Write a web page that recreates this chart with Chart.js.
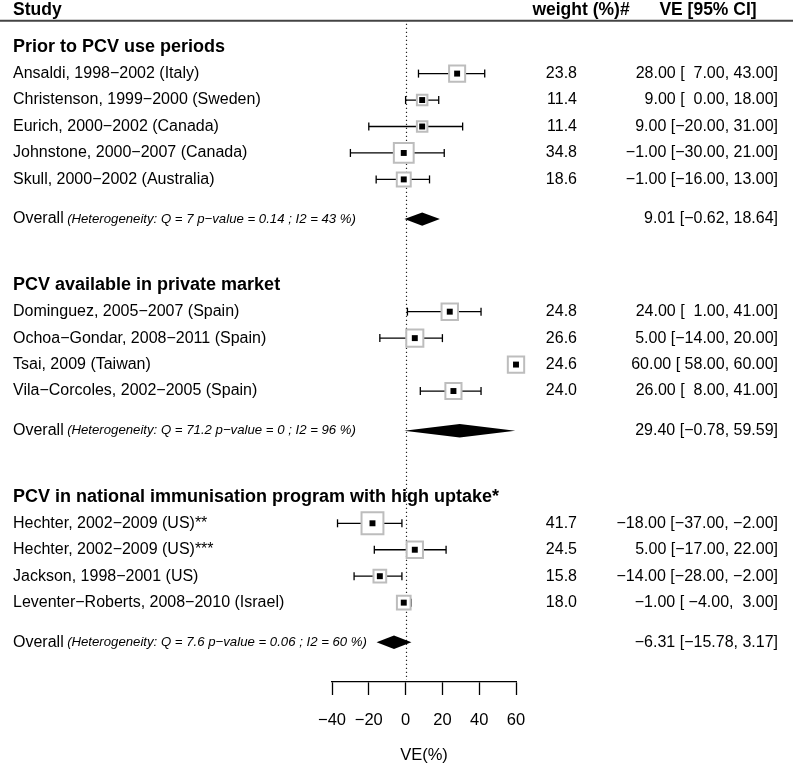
<!DOCTYPE html>
<html><head><meta charset="utf-8">
<script src="https://cdn.jsdelivr.net/npm/chart.js@4.4.0/dist/chart.umd.min.js"></script>
<style>html,body{margin:0;padding:0;background:#fff}#wrap{width:793px;height:766px;position:relative}</style>
</head><body><div id="wrap"><canvas id="c"></canvas></div>
<script>
// ---------- data ----------
const colHeaders = ['Study', 'weight (%)#', 'VE [95% CI]'];
const groupTitles = [
  'Prior to PCV use periods',
  'PCV available in private market',
  'PCV in national immunisation program with high uptake*'
];
const studyNames = [
  ['Ansaldi, 1998\u22122002 (Italy)', 'Christenson, 1999\u22122000 (Sweden)', 'Eurich, 2000\u22122002 (Canada)', 'Johnstone, 2000\u22122007 (Canada)', 'Skull, 2000\u22122002 (Australia)'],
  ['Dominguez, 2005\u22122007 (Spain)', 'Ochoa\u2212Gondar, 2008\u22122011 (Spain)', 'Tsai, 2009 (Taiwan)', 'Vila\u2212Corcoles, 2002\u22122005 (Spain)'],
  ['Hechter, 2002\u22122009 (US)**', 'Hechter, 2002\u22122009 (US)***', 'Jackson, 1998\u22122001 (US)', 'Leventer\u2212Roberts, 2008\u22122010 (Israel)']
];
const estimates = [[28, 9, 9, -1, -1], [24, 5, 60, 26], [-18, 5, -14, -1]];
const lowerCI   = [[7, 0, -20, -30, -16], [1, -14, 58, 8], [-37, -17, -28, -4]];
const upperCI   = [[43, 18, 31, 21, 13], [41, 20, 60, 41], [-2, 22, -2, 3]];
const weights   = [[23.8, 11.4, 11.4, 34.8, 18.6], [24.8, 26.6, 24.6, 24.0], [41.7, 24.5, 15.8, 18.0]];
const overallEst  = [9.01, 29.40, -6.31];
const overallLow  = [-0.62, -0.78, -15.78];
const overallHigh = [18.64, 59.59, 3.17];
const heterogeneity = [
  '(Heterogeneity: Q = 7 p\u2212value = 0.14 ; I2 = 43 %)',
  '(Heterogeneity: Q = 71.2 p\u2212value = 0 ; I2 = 96 %)',
  '(Heterogeneity: Q = 7.6 p\u2212value = 0.06 ; I2 = 60 %)'
];
const overallLabel = 'Overall';
const xTicks = [-40, -20, 0, 20, 40, 60];
const xTitle = 'VE(%)';

// ---------- layout (row positions derived from group structure) ----------
const FONT = "'Liberation Sans', Arial, Helvetica, sans-serif";
const headerRow = -2, axisRow = 23;
const groupRows = [], studyRows = [], overallRows = [];
{
  let r = -1;
  for (let g = 0; g < groupTitles.length; g++) {
    groupRows.push(r);
    const rows = [];
    for (let i = 0; i < studyNames[g].length; i++) rows.push(r + 1 + i);
    studyRows.push(rows);
    const ov = rows[rows.length - 1] + 1.5;
    overallRows.push(ov);
    r = ov + 2.5;
  }
}
const minus = s => s.replace(/-/g, '\u2212');
const fmt2 = v => minus(v.toFixed(2));

// ---------- datasets ----------
const datasets = [];
const squarePts = [], boxPts = [], boxRadii = [];
for (let g = 0; g < groupTitles.length; g++) {
  for (let i = 0; i < studyNames[g].length; i++) {
    const y = studyRows[g][i];
    squarePts.push({x: estimates[g][i], y});
    boxPts.push({x: estimates[g][i], y});
    const side = 3.7 * Math.sqrt(weights[g][i]) - 2;
    boxRadii.push(side / Math.SQRT2);
    datasets.push({
      type: 'scatter', showLine: true, order: 3, clip: false,
      data: [{x: lowerCI[g][i], y}, {x: upperCI[g][i], y}],
      borderColor: '#000', borderWidth: 1.3,
      pointStyle: 'line', rotation: 90, pointRadius: 4,
      pointBorderColor: '#000', pointBorderWidth: 1.3, pointHoverRadius: 4
    });
  }
}
datasets.push({
  type: 'scatter', order: 2, clip: false, data: boxPts,
  pointStyle: 'rect', pointRadius: boxRadii, pointHoverRadius: boxRadii,
  backgroundColor: '#fff', borderColor: '#bdbdbd', borderWidth: 2
});
datasets.push({
  type: 'scatter', order: 1, clip: false, data: squarePts,
  pointStyle: 'rect', pointRadius: 4.2, pointHoverRadius: 4.2,
  backgroundColor: '#000', borderColor: '#000', borderWidth: 0
});

// ---------- plugin: reference line, diamonds, text ----------
const forestPlugin = {
  id: 'forest',
  beforeDatasetsDraw(chart) {
    const ctx = chart.ctx, xs = chart.scales.x, ys = chart.scales.y;
    const x0 = Math.round(xs.getPixelForValue(0)) + 0.5;
    ctx.save();
    ctx.strokeStyle = '#222';
    ctx.lineWidth = 1.2;
    ctx.setLineDash([1.3, 2.7]);
    ctx.beginPath();
    ctx.moveTo(x0, ys.getPixelForValue(headerRow) + 3);
    ctx.lineTo(x0, ys.getPixelForValue(axisRow) - 2);
    ctx.stroke();
    ctx.restore();
  },
  afterDatasetsDraw(chart) {
    const ctx = chart.ctx, xs = chart.scales.x, ys = chart.scales.y;
    ctx.save();
    // diamonds
    ctx.fillStyle = '#000';
    for (let g = 0; g < overallEst.length; g++) {
      const y = ys.getPixelForValue(overallRows[g]);
      ctx.beginPath();
      ctx.moveTo(xs.getPixelForValue(overallLow[g]), y);
      ctx.lineTo(xs.getPixelForValue(overallEst[g]), y - 6.7);
      ctx.lineTo(xs.getPixelForValue(overallHigh[g]), y);
      ctx.lineTo(xs.getPixelForValue(overallEst[g]), y + 6.7);
      ctx.closePath();
      ctx.fill();
    }
    // header line
    const yh = ys.getPixelForValue(headerRow);
    ctx.strokeStyle = '#444';
    ctx.lineWidth = 2;
    ctx.beginPath();
    ctx.moveTo(0, yh); ctx.lineTo(chart.width, yh); ctx.stroke();

    const xL = 13, xW = 577, xV = 778;
    ctx.fillStyle = '#000';
    ctx.textBaseline = 'middle';
    // column headers
    ctx.font = 'bold 17.5px ' + FONT;
    ctx.textAlign = 'left';
    ctx.fillText(colHeaders[0], xL, yh - 11);
    ctx.textAlign = 'center';
    ctx.fillText(colHeaders[1], 581, yh - 11);
    ctx.fillText(colHeaders[2], 708, yh - 11);

    for (let g = 0; g < groupTitles.length; g++) {
      ctx.font = 'bold 18px ' + FONT;
      ctx.textAlign = 'left';
      ctx.fillText(groupTitles[g], xL, ys.getPixelForValue(groupRows[g]));
      const loStr = lowerCI[g].map(fmt2), hiStr = upperCI[g].map(fmt2);
      const wLo = Math.max(...loStr.map(s => s.length)), wHi = Math.max(...hiStr.map(s => s.length));
      for (let i = 0; i < studyNames[g].length; i++) {
        const y = ys.getPixelForValue(studyRows[g][i]);
        ctx.font = '16px ' + FONT;
        ctx.textAlign = 'left';
        ctx.fillText(studyNames[g][i], xL, y);
        ctx.textAlign = 'right';
        ctx.fillText(weights[g][i].toFixed(1), xW, y);
        const s = fmt2(estimates[g][i]) + ' [' + loStr[i].padStart(wLo, ' ') + ', ' + hiStr[i].padStart(wHi, ' ') + ']';
        ctx.fillText(s, xV, y);
      }
      const yo = ys.getPixelForValue(overallRows[g]);
      ctx.font = '16px ' + FONT;
      ctx.textAlign = 'left';
      ctx.fillText(overallLabel, xL, yo);
      const ow = ctx.measureText(overallLabel + ' ').width;
      ctx.font = 'italic 13.2px ' + FONT;
      ctx.fillText(heterogeneity[g], xL + ow - 1, yo);
      ctx.font = '16px ' + FONT;
      ctx.textAlign = 'right';
      ctx.fillText(fmt2(overallEst[g]) + ' [' + fmt2(overallLow[g]) + ', ' + fmt2(overallHigh[g]) + ']', xV, yo);
    }
    ctx.restore();
  }
};

Chart.defaults.font.family = FONT;
Chart.defaults.color = '#000';

new Chart(document.getElementById('c'), {
  type: 'scatter',
  data: {datasets},
  options: {
    responsive: true, maintainAspectRatio: false, animation: false, events: [],
    layout: {padding: {left: 332, right: 277, top: 20.7, bottom: 1.1}},
    plugins: {legend: {display: false}, tooltip: {enabled: false}},
    scales: {
      x: {
        type: 'linear', min: -40, max: 60,
        afterBuildTicks: s => { s.ticks = xTicks.map(v => ({value: v})); },
        afterFit: s => { s.height = 82.9; },
        ticks: {padding: 15.1, font: {size: 16.5}, color: '#000', autoSkip: false, maxRotation: 0,
                callback: v => minus(String(v))},
        grid: {drawOnChartArea: false, drawTicks: true, tickLength: 13, tickWidth: 1.3, tickColor: '#000'},
        border: {display: true, color: '#000', width: 1.3},
        title: {display: true, text: xTitle, font: {size: 16.5}, color: '#000', padding: {top: 15.2, bottom: 0}}
      },
      y: {type: 'linear', reverse: true, min: headerRow, max: axisRow, display: false}
    }
  },
  plugins: [forestPlugin]
});
</script>
</body></html>
